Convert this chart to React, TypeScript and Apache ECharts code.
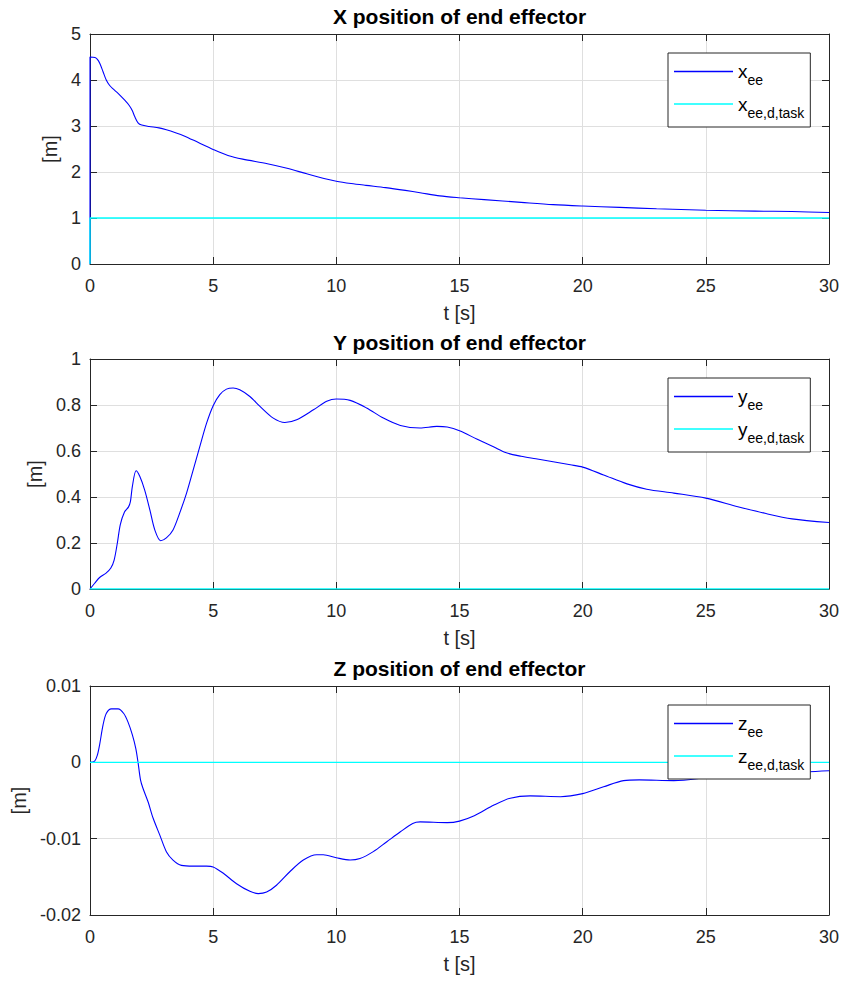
import React, { useEffect, useRef } from 'react';
import * as echarts from 'echarts';

const FONT = '"Liberation Sans", Arial, Helvetica, sans-serif';
const INK = '#262626';
const GRID_COLOR = '#dfdfdf';
const BLUE = '#0000ff';
const CYAN = '#00ffff';

// Time axis shared by the three panels
const T_MIN = 0;
const T_MAX = 30;
const T_STEP = 5;

// X position of the end effector
const tX = [0, 0, 0.2, 0.3, 0.4, 0.53, 0.66, 0.8, 0.95, 1.14, 1.41, 1.6, 1.72, 1.82, 1.95, 2.1, 2.4, 2.8, 3.1, 3.5, 3.8, 4.4, 5, 5.6, 6.2, 7.2, 8.0, 8.8, 9.5, 10, 10.6, 11.2, 12, 12.8, 13.4, 14.2, 15, 16, 17.5, 18.8, 20, 21.5, 23, 25, 27, 28.5, 30];
const xEE = [0, 4.5, 4.49, 4.45, 4.36, 4.18, 4.0, 3.88, 3.8, 3.71, 3.56, 3.44, 3.33, 3.2, 3.07, 3.02, 2.99, 2.96, 2.92, 2.85, 2.79, 2.64, 2.49, 2.36, 2.28, 2.18, 2.08, 1.96, 1.86, 1.8, 1.75, 1.71, 1.66, 1.6, 1.55, 1.48, 1.44, 1.4, 1.34, 1.29, 1.26, 1.23, 1.2, 1.17, 1.15, 1.14, 1.12];
const tXTask = [0, 0, 30];
const xTask = [0, 1, 1];

// Y position of the end effector
const tY = [0, 0.19, 0.39, 0.64, 0.84, 0.98, 1.11, 1.23, 1.4, 1.56, 1.64, 1.72, 1.87, 2.02, 2.22, 2.43, 2.63, 2.87, 3.1, 3.37, 3.64, 3.92, 4.19, 4.46, 4.73, 5.0, 5.27, 5.54, 5.81, 6.08, 6.49, 6.9, 7.44, 7.91, 8.39, 9.07, 9.61, 10, 10.56, 11.23, 11.91, 12.6, 13.4, 14.08, 14.5, 15, 15.7, 16.4, 16.9, 17.5, 18.1, 18.8, 19.5, 20, 20.85, 21.8, 22.6, 23.7, 25, 26.3, 27.4, 28.5, 30];
const yEE = [0, 0.025, 0.05, 0.068, 0.09, 0.126, 0.2, 0.28, 0.335, 0.356, 0.38, 0.446, 0.514, 0.49, 0.43, 0.344, 0.257, 0.21, 0.222, 0.257, 0.33, 0.417, 0.518, 0.62, 0.72, 0.797, 0.845, 0.869, 0.874, 0.866, 0.837, 0.794, 0.743, 0.724, 0.736, 0.779, 0.816, 0.826, 0.82, 0.787, 0.743, 0.711, 0.7, 0.707, 0.704, 0.688, 0.652, 0.617, 0.592, 0.577, 0.566, 0.553, 0.54, 0.53, 0.496, 0.457, 0.434, 0.417, 0.395, 0.358, 0.329, 0.305, 0.289];
const tYTask = [0, 30];
const yTask = [0, 0];

// Z position of the end effector
const tZ = [0, 0.19, 0.3, 0.39, 0.53, 0.66, 0.87, 1.14, 1.37, 1.54, 1.72, 1.86, 1.95, 2.05, 2.15, 2.36, 2.56, 2.83, 3.1, 3.37, 3.71, 4.19, 4.73, 5, 5.4, 5.95, 6.49, 6.83, 7.17, 7.57, 8.12, 8.66, 9.2, 9.47, 10, 10.56, 10.96, 11.5, 12.05, 12.6, 13.1, 13.4, 14.5, 15, 15.6, 16.4, 17.06, 17.87, 19.1, 20, 20.85, 21.66, 22.3, 23.7, 25, 25.6, 26.9, 28.3, 30];
const zEE = [0, 0.00017, 0.00096, 0.0023, 0.0049, 0.0064, 0.007, 0.007, 0.0064, 0.0053, 0.0036, 0.0018, 0, -0.0023, -0.0034, -0.0052, -0.0073, -0.0095, -0.0117, -0.0128, -0.0135, -0.0136, -0.0136, -0.0137, -0.0145, -0.0159, -0.0169, -0.0172, -0.017, -0.0161, -0.0143, -0.0128, -0.0121, -0.0121, -0.0125, -0.0128, -0.0126, -0.0117, -0.0104, -0.0091, -0.008, -0.0078, -0.0079, -0.0077, -0.007, -0.0056, -0.0047, -0.0044, -0.0045, -0.0041, -0.0032, -0.0024, -0.0023, -0.0024, -0.002, -0.0017, -0.0013, -0.0013, -0.0011];
const tZTask = [0, 30];
const zTask = [0, 0];

// Per-panel texts and value ranges
const panelTitles = ['X position of end effector', 'Y position of end effector', 'Z position of end effector'];
const coordLetters = ['x', 'y', 'z'];
const yMins = [0, 0, -0.02];
const yMaxs = [5, 1, 0.01];
const ySteps = [1, 0.2, 0.01];
const xLabel = 't [s]';
const yLabel = '[m]';
const measuredSub = 'ee';
const desiredSub = 'ee,d,task';

const pairs = (t: number[], v: number[]) => t.map((ti, i) => [ti, v[i]]);

const panelData = [
  { actual: pairs(tX, xEE), desired: pairs(tXTask, xTask) },
  { actual: pairs(tY, yEE), desired: pairs(tYTask, yTask) },
  { actual: pairs(tZ, zEE), desired: pairs(tZTask, zTask) },
];

// Page layout of the three stacked axes
const layout = [
  { top: 34, height: 230, titleTop: 6, legendTop: 53, yNameGap: 27 },
  { top: 359, height: 230, titleTop: 332, legendTop: 378, yNameGap: 43 },
  { top: 686, height: 229, titleTop: 658, legendTop: 705, yNameGap: 60 },
];
const PLOT_LEFT = 90;
const PLOT_WIDTH = 739;

function buildOption() {
  const grid: any[] = [];
  const xAxis: any[] = [];
  const yAxis: any[] = [];
  const series: any[] = [];
  const title: any[] = [];
  const legend: any[] = [];

  const boxLine = { show: true, onZero: false, lineStyle: { color: INK, width: 1 } };
  const innerTick = { show: true, inside: true, length: 7, lineStyle: { color: INK, width: 1 } };

  layout.forEach((l, i) => {
    grid.push({ left: PLOT_LEFT, width: PLOT_WIDTH, top: l.top, height: l.height });

    xAxis.push({
      type: 'value', gridIndex: i, position: 'bottom',
      min: T_MIN, max: T_MAX, interval: T_STEP,
      axisLine: boxLine, axisTick: innerTick,
      axisLabel: { color: INK, fontSize: 18, fontFamily: FONT, margin: 13 },
      splitLine: { show: true, lineStyle: { color: GRID_COLOR, width: 1 } },
      name: xLabel, nameLocation: 'middle', nameGap: 39,
      nameTextStyle: { color: INK, fontSize: 20, fontFamily: FONT },
    });
    xAxis.push({
      type: 'value', gridIndex: i, position: 'top',
      min: T_MIN, max: T_MAX, interval: T_STEP,
      axisLine: boxLine, axisTick: innerTick,
      axisLabel: { show: false }, splitLine: { show: false },
    });

    yAxis.push({
      type: 'value', gridIndex: i, position: 'left',
      min: yMins[i], max: yMaxs[i], interval: ySteps[i],
      axisLine: boxLine, axisTick: innerTick,
      axisLabel: { color: INK, fontSize: 18, fontFamily: FONT, margin: 9 },
      splitLine: { show: true, lineStyle: { color: GRID_COLOR, width: 1 } },
      name: yLabel, nameLocation: 'middle', nameRotate: 90, nameGap: l.yNameGap,
      nameTextStyle: { color: INK, fontSize: 20, fontFamily: FONT },
    });
    yAxis.push({
      type: 'value', gridIndex: i, position: 'right',
      min: yMins[i], max: yMaxs[i], interval: ySteps[i],
      axisLine: boxLine, axisTick: innerTick,
      axisLabel: { show: false }, splitLine: { show: false },
    });

    const c = coordLetters[i];
    const nameActual = `${c}_${measuredSub}`;
    const nameDesired = `${c}_${desiredSub}`;

    series.push({
      type: 'line', name: nameActual,
      xAxisIndex: 2 * i, yAxisIndex: 2 * i,
      data: panelData[i].actual,
      symbol: 'none', showSymbol: false, smooth: 0.3,
      lineStyle: { color: BLUE, width: 1.1 }, itemStyle: { color: BLUE },
    });
    series.push({
      type: 'line', name: nameDesired,
      xAxisIndex: 2 * i, yAxisIndex: 2 * i,
      data: panelData[i].desired,
      symbol: 'none', showSymbol: false,
      lineStyle: { color: CYAN, width: 1.3 }, itemStyle: { color: CYAN },
    });

    title.push({
      text: panelTitles[i], left: PLOT_LEFT + PLOT_WIDTH / 2, top: l.titleTop,
      textAlign: 'center', padding: 0,
      textStyle: { fontSize: 21, fontWeight: 'bold', color: '#000', fontFamily: FONT },
    });

    legend.push({
      data: [nameActual, nameDesired],
      orient: 'vertical', left: 668, top: l.legendTop,
      padding: [9, 6, 7, 6], itemGap: 7, itemWidth: 59, itemHeight: 1.3,
      icon: 'rect',
      backgroundColor: '#fff', borderColor: INK, borderWidth: 1, borderRadius: 0,
      selectedMode: false,
      formatter: (name: string) => {
        const k = name.indexOf('_');
        return `{m|${name.slice(0, k)}}{s|${name.slice(k + 1)}}`;
      },
      textStyle: {
        fontFamily: FONT,
        rich: {
          m: { fontSize: 19, color: '#000', fontFamily: FONT },
          s: { fontSize: 14, color: '#000', fontFamily: FONT, padding: [18, 0, 0, 0] },
        },
      },
    });
  });

  return {
    animation: false,
    backgroundColor: '#ffffff',
    textStyle: { fontFamily: FONT },
    title, legend, grid, xAxis, yAxis, series,
  };
}

export default function App() {
  const ref = useRef<HTMLDivElement>(null);
  useEffect(() => {
    document.body.style.margin = '0';
    if (!ref.current) return;
    const chart = echarts.init(ref.current, undefined, { renderer: 'svg' });
    chart.setOption(buildOption() as any);
    return () => chart.dispose();
  }, []);
  return <div ref={ref} style={{ width: 843, height: 981 }} />;
}
